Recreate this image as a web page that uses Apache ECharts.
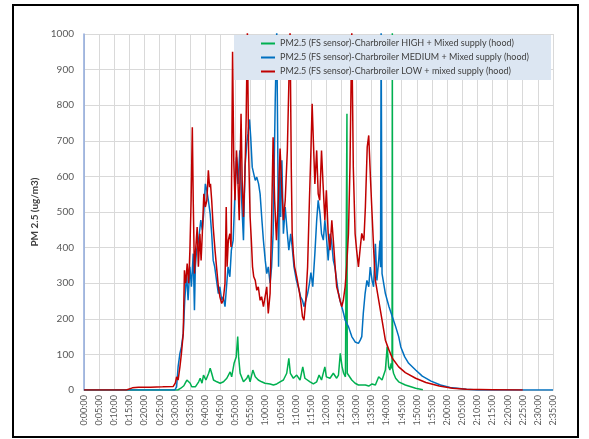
<!DOCTYPE html>
<html><head><meta charset="utf-8">
<script src="https://cdn.jsdelivr.net/npm/echarts@6/dist/echarts.min.js"></script>
<style>html,body{margin:0;padding:0;background:#fff}#c{width:589px;height:439px}</style>
</head><body><div id="c"></div>
<script>
// time in minutes, PM2.5 in ug/m3
const seriesNames = [
  'PM2.5 (FS sensor)-Charbroiler HIGH + Mixed supply (hood)',
  'PM2.5 (FS sensor)-Charbroiler MEDIUM + Mixed supply (hood)',
  'PM2.5 (FS sensor)-Charbroiler LOW + mixed supply (hood)'
];
const xTickMinutes = [0,5,10,15,20,25,30,35,40,45,50,55,60,65,70,75,80,85,90,95,100,105,110,115,120,125,130,135,140,145,150,155];
const yTicks = [0,100,200,300,400,500,600,700,800,900,1000];

const highData = [[0,0],[31,0],[32,5],[33,12],[33.5,20],[34,28],[34.5,33],[35.1,19],[35.6,9],[36.8,9],[37.9,23],[38.4,33],[39,19],[39.5,42],[40.3,28],[41.2,47],[41.7,61],[42.2,47],[42.8,28],[43.9,23],[45,19],[46.1,23],[47.2,33],[48.3,51],[48.8,37],[49.6,75],[50.3,93],[50.8,150],[51.1,93],[51.6,47],[52.7,23],[53.8,33],[54.3,42],[54.9,23],[55.8,56],[56.6,37],[57.6,28],[58.7,23],[59.8,19],[61.5,17],[62.6,14],[63.7,17],[64.8,23],[65.9,28],[67,47],[67.7,89],[68.2,47],[69.2,33],[70.3,42],[71.4,28],[72.3,65],[73,33],[74.7,23],[75.8,17],[76.9,23],[77.7,42],[78.5,28],[79.6,65],[80.1,37],[81.3,33],[82.4,47],[83.5,33],[84.1,42],[84.7,103],[85.3,65],[85.8,47],[86.4,37],[86.8,40],[86.9,776],[87.0,47],[88.5,28],[89.6,19],[90.7,14],[93,14],[94.1,11],[95.2,17],[96.3,14],[97.4,37],[98.5,28],[99.6,56],[100.2,121],[100.7,65],[101.1,56],[101.5,75],[101.8,60],[101.9,1010],[102.0,60],[102.3,47],[103,33],[104,23],[106.2,14],[109.6,5],[112,1]];

const mediumData = [[0,0],[30,0],[30.6,9],[31.1,65],[31.7,103],[32.2,121],[32.8,159],[33.3,252],[33.9,327],[34.4,252],[35,346],[35.5,290],[36.1,383],[36.5,224],[36.8,346],[37.2,393],[37.7,411],[38.1,439],[38.6,477],[39.1,449],[39.6,500],[40.1,579],[40.6,560],[41.1,533],[41.7,495],[42.2,439],[42.7,364],[43.2,346],[43.8,308],[44.4,271],[44.9,290],[45.5,252],[46,262],[46.6,234],[47.1,290],[47.6,346],[48.2,318],[48.7,393],[49.3,421],[49.8,533],[50.4,654],[50.9,579],[51.5,673],[52.1,533],[52.7,421],[53.2,626],[53.8,692],[54.2,720],[54.7,760],[55.1,710],[55.6,626],[56.1,607],[56.6,589],[57.1,598],[57.7,579],[58.2,551],[58.8,477],[59.3,420],[59.9,364],[60.4,327],[60.9,346],[61.5,300],[62,346],[62.5,439],[63.2,813],[63.7,1010],[64,720],[64.3,346],[64.7,626],[65,486],[65.4,645],[65.9,439],[66.5,514],[67.2,439],[67.7,393],[68.3,439],[68.8,402],[69.4,346],[70.2,308],[71.1,280],[71.6,262],[72.2,252],[72.7,234],[73.3,252],[73.9,271],[74.5,299],[75,330],[75.6,290],[76.3,383],[76.9,477],[77.4,533],[78,495],[78.5,439],[79.1,421],[79.6,477],[80.2,421],[80.7,364],[81.3,439],[81.8,420],[82.4,364],[82.9,346],[83.5,308],[84.1,271],[84.6,252],[85.2,234],[85.8,215],[86.3,196],[87.4,178],[88.5,150],[89.6,135],[90.7,131],[91.3,140],[91.8,150],[92.3,215],[92.9,271],[93.5,308],[94.1,290],[94.6,345],[95.2,308],[95.7,290],[96.3,411],[96.8,308],[97.4,364],[97.8,420],[98,345],[98.2,1010],[98.5,327],[99.6,271],[100.8,234],[101.9,206],[103,178],[104,150],[104.7,121],[106,93],[107.3,75],[109.6,56],[111.8,39],[114.7,25],[117.8,14],[121,7],[126.4,2],[130,0],[155,0]];

const lowData = [[0,0],[14,0],[16,6],[18,8],[22,8],[26,9],[29.5,10],[30.2,20],[30.6,37],[31.1,28],[31.7,65],[32.2,103],[32.8,159],[33.2,336],[33.5,300],[33.7,308],[34.1,355],[34.6,300],[35,393],[35.4,533],[35.8,738],[36.1,533],[36.5,327],[36.9,393],[37.4,458],[37.8,346],[38.3,439],[38.7,364],[39.1,439],[39.6,551],[40.1,514],[40.6,533],[41.1,617],[41.5,570],[41.8,579],[42.2,533],[42.7,458],[43.3,393],[43.8,346],[44.4,290],[44.9,262],[45.5,243],[46,252],[46.6,299],[47,514],[47.3,346],[47.7,421],[48.2,439],[48.6,402],[49.1,950],[49.5,645],[49.9,533],[50.4,673],[50.8,607],[51.3,477],[51.9,776],[52.3,579],[52.7,486],[53.2,607],[53.6,766],[54,1010],[54.4,673],[54.9,486],[55.3,421],[55.7,346],[56.1,318],[56.6,308],[57.1,280],[57.6,290],[58.2,252],[58.7,262],[59.3,234],[59.9,234],[60.4,290],[60.9,215],[61.5,271],[62,477],[62.5,710],[63,533],[63.6,421],[64.2,533],[64.8,678],[65.3,579],[65.9,477],[66.5,533],[67.2,673],[68.1,1010],[68.5,626],[68.8,439],[69.2,383],[69.6,346],[70.3,318],[71.1,280],[71.6,252],[72.2,206],[72.7,196],[73.3,252],[73.9,346],[74.5,533],[75,673],[75.4,804],[75.8,701],[76.3,579],[76.9,673],[77.4,551],[77.9,533],[78.5,673],[79,579],[79.6,477],[80.1,561],[80.7,439],[81.3,393],[81.9,477],[82.4,421],[83,346],[83.5,290],[84.1,271],[84.6,252],[85.2,234],[85.7,252],[86.3,290],[86.8,346],[87.4,439],[87.9,626],[88.5,1010],[89,626],[89.6,439],[90.1,393],[90.7,346],[91.3,400],[91.8,440],[92.5,420],[93,515],[93.6,682],[94.1,715],[94.7,590],[95.2,495],[95.8,383],[96.3,308],[97.4,252],[98.5,196],[99.6,140],[100.8,112],[101.9,89],[104,65],[106.2,49],[109.6,33],[113,21],[117.4,11],[121.8,5],[126.4,2],[135,1],[145,0]];

const colors = ['#00B050', '#0070C0', '#C00000'];

function fmtTime(v) {
  const h = Math.floor(v / 60), m = Math.round(v % 60);
  return h + ':' + (m < 10 ? '0' : '') + m + ':00';
}

const chart = echarts.init(document.getElementById('c'), null, {renderer: 'canvas'});
const font = 'Lato, "Open Sans", sans-serif';
chart.setOption({
  animation: false,
  backgroundColor: '#fff',
  textStyle: {fontFamily: font},
  graphic: [{
    type: 'rect', shape: {x: 13, y: 5, width: 565, height: 432},
    style: {fill: 'none', stroke: '#000', lineWidth: 2}, silent: true, z: 100
  }],
  grid: {left: 84, top: 34, right: 36, bottom: 49, containLabel: false},
  legend: {
    data: seriesNames, orient: 'vertical', left: 234, top: 35,
    backgroundColor: '#DCE6F2', padding: [3, 22, 3, 27], itemGap: 3,
    itemWidth: 14, itemHeight: 2, icon: 'rect',
    textStyle: {fontSize: 9, lineHeight: 11, color: '#404040', fontFamily: font}, z: 10
  },
  xAxis: {
    type: 'value', min: 0, max: 155, interval: 5,
    axisLine: {show: true, onZero: false, lineStyle: {color: '#BFBFBF'}},
    axisTick: {show: false},
    splitLine: {show: true, lineStyle: {color: '#D9D9D9', width: 1}},
    axisLabel: {rotate: 90, fontSize: 9, color: '#595959', margin: 5,
      formatter: function (v) { return xTickMinutes.indexOf(v) >= 0 ? fmtTime(v) : ''; }}
  },
  yAxis: {
    type: 'value', min: 0, max: 1000, interval: 100,
    name: 'PM 2.5 (ug/m3)', nameLocation: 'middle', nameGap: 36,
    nameTextStyle: {fontWeight: 'bold', fontSize: 10, color: '#404040'},
    axisLine: {show: true, lineStyle: {color: '#8EA9DB', width: 1.5}},
    axisTick: {show: false},
    splitLine: {show: true, lineStyle: {color: '#D9D9D9', width: 1}},
    axisLabel: {fontSize: 10, color: '#595959', margin: 10,
      formatter: function (v) { return yTicks.indexOf(v) >= 0 ? String(v) : ''; }}
  },
  series: [
    {name: seriesNames[0], type: 'line', data: highData, showSymbol: false, symbol: 'none', clip: true,
      lineStyle: {color: colors[0], width: 1.5}, itemStyle: {color: colors[0]}},
    {name: seriesNames[1], type: 'line', data: mediumData, showSymbol: false, symbol: 'none', clip: true,
      lineStyle: {color: colors[1], width: 1.5}, itemStyle: {color: colors[1]}},
    {name: seriesNames[2], type: 'line', data: lowData, showSymbol: false, symbol: 'none', clip: true,
      lineStyle: {color: colors[2], width: 1.5}, itemStyle: {color: colors[2]}}
  ]
});
</script></body></html>
